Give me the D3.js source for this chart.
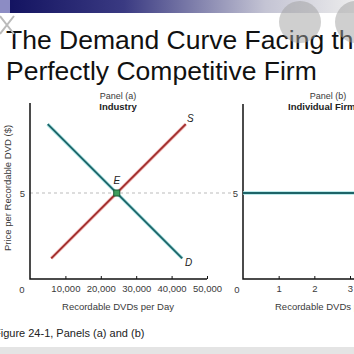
<!DOCTYPE html>
<html>
<head>
<meta charset="utf-8">
<script src="https://cdn.jsdelivr.net/npm/d3@7"></script>
<style>
  body { margin: 0; background: #fff; }
  svg { display: block; font-family: "Liberation Sans", Arial, sans-serif; }
</style>
</head>
<body>
<div id="chart"></div>
<script>
// values
const industryTicks = [10000, 20000, 30000, 40000, 50000];
const firmTicks = [1, 2, 3];
const supplyPts = [[6000, 1.2], [44000, 9.0]];
const demandPts = [[5000, 9.0], [43000, 1.2]];
const equilibrium = [24500, 5];
const marketPrice = 5;
const firmDemandPts = [[0, 5], [3.5, 5]];

const W = 354, H = 354;
const svg = d3.select("#chart").append("svg")
  .attr("width", W).attr("height", H);

// top banner
const defs = svg.append("defs");
const grad = defs.append("linearGradient").attr("id", "band");
grad.append("stop").attr("offset", "0%").attr("stop-color", "#10105e");
grad.append("stop").attr("offset", "35%").attr("stop-color", "#3a3a82");
grad.append("stop").attr("offset", "75%").attr("stop-color", "#c4c4d4");
grad.append("stop").attr("offset", "100%").attr("stop-color", "#ececec");
svg.append("rect").attr("x", 0).attr("y", 0).attr("width", W).attr("height", 13).attr("fill", "url(#band)");
svg.append("rect").attr("x", 0).attr("y", 0).attr("width", 10).attr("height", 13).attr("fill", "#8c8cc4");

// title
const title = svg.append("g").attr("fill", "#111").style("font-size", "26.5px");
title.append("text").attr("x", 6).attr("y", 49).text("The Demand Curve Facing the");
title.append("text").attr("x", 6).attr("y", 80).text("Perfectly Competitive Firm");

// overlay buttons of the screenshot
svg.append("circle").attr("cx", 300).attr("cy", 22).attr("r", 21).attr("fill", "#a0a0a0").attr("opacity", 0.5);
svg.append("circle").attr("cx", 356).attr("cy", 22).attr("r", 21).attr("fill", "#a0a0a0").attr("opacity", 0.5);
svg.append("path").attr("d", "M0,16 L14,34 M14,16 L0,34").attr("stroke", "#bbb").attr("stroke-width", 2);

// scales
const y = d3.scaleLinear().domain([0, 10]).range([279, 107]);
const xa = d3.scaleLinear().domain([0, 50000]).range([30, 207]);
const xb = d3.scaleLinear().domain([0, 3]).range([243, 350]);

const labelColor = "#3a3a3a";
const fs = "9.5px";

// dashed price line
svg.append("line")
  .attr("x1", xa(0)).attr("x2", 231)
  .attr("y1", y(marketPrice)).attr("y2", y(marketPrice))
  .attr("stroke", "#bbb").attr("stroke-dasharray", "3,3");

// panel (a) axes
const axA = svg.append("g").attr("transform", `translate(0,${y(0)})`)
  .call(d3.axisBottom(xa).tickValues(industryTicks).tickSize(-3).tickPadding(6)
    .tickFormat(d3.format(",")));
const axAy = svg.append("g").attr("transform", `translate(${xa(0)},0)`)
  .call(d3.axisLeft(y).tickValues([marketPrice]).tickSize(0).tickPadding(5));

// panel (b) axes
const axB = svg.append("g").attr("transform", `translate(0,${y(0)})`)
  .call(d3.axisBottom(xb).tickValues(firmTicks).tickSize(-3).tickPadding(6)
    .tickFormat(d3.format("d")));
const axBy = svg.append("g").attr("transform", `translate(${xb(0)},0)`)
  .call(d3.axisLeft(y).tickValues([marketPrice]).tickSize(0).tickPadding(5));

[axA, axAy, axB, axBy].forEach(function (g) {
  g.select(".domain").remove();
  g.selectAll("text").style("font-size", fs).attr("fill", labelColor)
    .style("font-family", "'Liberation Sans', Arial, sans-serif");
  g.selectAll("line").attr("stroke", "#111");
});

// axis lines
svg.append("path")
  .attr("d", `M${xa(0)},103 V${y(0)} H${xa(50000)}`)
  .attr("fill", "none").attr("stroke", "#111").attr("stroke-width", 1.5);
svg.append("path")
  .attr("d", `M${xb(0)},104 V${y(0)} H${W}`)
  .attr("fill", "none").attr("stroke", "#111").attr("stroke-width", 1.5);

// origin labels
svg.append("text").attr("x", 22).attr("y", 293).attr("text-anchor", "middle")
  .style("font-size", fs).attr("fill", labelColor).text("0");
svg.append("text").attr("x", 237).attr("y", 293).attr("text-anchor", "middle")
  .style("font-size", fs).attr("fill", labelColor).text("0");

// curves
const lineA = d3.line().x(d => xa(d[0])).y(d => y(d[1]));
const lineB = d3.line().x(d => xb(d[0])).y(d => y(d[1]));

function drawCurve(gen, pts, glow, col) {
  svg.append("path").attr("d", gen(pts)).attr("fill", "none")
    .attr("stroke", glow).attr("stroke-width", 3.4);
  svg.append("path").attr("d", gen(pts)).attr("fill", "none")
    .attr("stroke", col).attr("stroke-width", 1.8);
}
drawCurve(lineA, demandPts, "#a8e4e4", "#1e6468");
drawCurve(lineA, supplyPts, "#f2b8b8", "#a02e2c");
drawCurve(lineB, firmDemandPts, "#a8e4e4", "#1e6468");

// equilibrium point
svg.append("rect")
  .attr("x", xa(equilibrium[0]) - 3).attr("y", y(equilibrium[1]) - 3)
  .attr("width", 6).attr("height", 6)
  .attr("fill", "#3f9e5c").attr("stroke", "#1d5e36").attr("stroke-width", 1);

// curve labels
const italic = svg.append("g").style("font-size", "10px").style("font-style", "italic").attr("fill", "#222");
italic.append("text").attr("x", xa(equilibrium[0])).attr("y", 184).attr("text-anchor", "middle").text("E");
italic.append("text").attr("x", 187).attr("y", 122).text("S");
italic.append("text").attr("x", 185).attr("y", 266).text("D");

// panel titles
svg.append("text").attr("x", 118).attr("y", 99).attr("text-anchor", "middle")
  .style("font-size", "9px").attr("fill", labelColor).text("Panel (a)");
svg.append("text").attr("x", 118).attr("y", 110).attr("text-anchor", "middle")
  .style("font-size", "9.5px").style("font-weight", "bold").attr("fill", "#222").text("Industry");
svg.append("text").attr("x", 328).attr("y", 99).attr("text-anchor", "middle")
  .style("font-size", "9px").attr("fill", labelColor).text("Panel (b)");
svg.append("text").attr("x", 288).attr("y", 110)
  .style("font-size", "9.5px").style("font-weight", "bold").attr("fill", "#222").text("Individual Firm");

// axis titles
svg.append("text").attr("transform", "translate(11,188) rotate(-90)").attr("text-anchor", "middle")
  .style("font-size", fs).attr("fill", labelColor).text("Price per Recordable DVD ($)");
svg.append("text").attr("x", 118).attr("y", 310).attr("text-anchor", "middle")
  .style("font-size", fs).attr("fill", labelColor).text("Recordable DVDs per Day");
svg.append("text").attr("x", 275).attr("y", 310)
  .style("font-size", fs).attr("fill", labelColor).text("Recordable DVDs per Day");

// caption
svg.append("text").attr("x", -6).attr("y", 337)
  .style("font-size", "11px").attr("fill", "#222").text("Figure 24-1, Panels (a) and (b)");
svg.append("rect").attr("x", 0).attr("y", 347).attr("width", W).attr("height", 7).attr("fill", "#e4e4e4");
</script>
</body>
</html>
